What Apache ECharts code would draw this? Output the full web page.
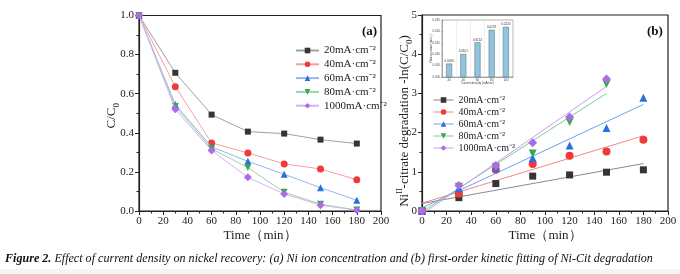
<!DOCTYPE html>
<html><head><meta charset="utf-8">
<script src="https://cdn.jsdelivr.net/npm/echarts@6/dist/echarts.min.js"></script>
<style>html,body{margin:0;padding:0;background:#fff}#c{width:680px;height:274px}</style>
</head><body><div id="c"></div>
<script>
// ---------- data ----------
const times = [0, 30, 60, 90, 120, 150, 180];
const seriesLabels = ['20mA·cm⁻²', '40mA·cm⁻²', '60mA·cm⁻²', '80mA·cm⁻²', '1000mA·cm⁻²'];
// (a) C/C0
const ratio20   = [1.0, 0.707, 0.493, 0.406, 0.396, 0.365, 0.345];
const ratio40   = [1.0, 0.636, 0.348, 0.297, 0.241, 0.215, 0.160];
const ratio60   = [1.0, 0.545, 0.328, 0.254, 0.188, 0.119, 0.055];
const ratio80   = [1.0, 0.535, 0.318, 0.222, 0.096, 0.035, 0.005];
const ratio1000 = [1.0, 0.520, 0.310, 0.172, 0.087, 0.030, 0.004];
// (b) -ln(C/C0)
const ln20   = [0, 0.34, 0.70, 0.89, 0.92, 0.99, 1.05];
const ln40   = [0, 0.44, 1.05, 1.20, 1.41, 1.52, 1.82];
const ln60   = [0, 0.58, 1.10, 1.35, 1.67, 2.12, 2.89];
const ln80   = [0, 0.62, 1.13, 1.47, 2.27, 3.24];
const ln1000 = [0, 0.65, 1.16, 1.74, 2.40, 3.37];
// fitted lines (start / end)
const fitX20 = [0, 180], fitY20 = [0.19, 1.21];
const fitX40 = [0, 180], fitY40 = [0.20, 1.92];
const fitX60 = [0, 180], fitY60 = [0.08, 2.72];
const fitX80 = [0, 150], fitY80 = [-0.02, 3.00];
const fitX1000 = [0, 150], fitY1000 = [-0.08, 3.18];
// inset: rate constants
const densities = ['20', '40', '60', '80', '100'];
const rates = [0.0059, 0.0101, 0.0152, 0.0207, 0.0220];
// axis ticks
const xTicks = {min: 0, max: 200, interval: 20};
const yTicksA = {min: 0, max: 1, interval: 0.2};
const yTicksB = {min: 0, max: 5, interval: 1};
const insetY = {min: 0, max: 0.025, interval: 0.005};

// ---------- styles ----------
const FONT = '"Liberation Serif", "Times New Roman", serif';
const markerColors = ['#353535', '#f03a3a', '#2a6fe0', '#35a852', '#ad6be6'];
const lineColorsA = ['#a0a0a0', '#f5a0a0', '#93b6ee', '#9bd3a9', '#d5b3f2'];
const lineColorsB = ['#8a8a8a', '#f28888', '#6aa2f0', '#78cc8e', '#c89cf0'];
const symbols = ['rect', 'circle', 'triangle', 'path://M0,0 L10,0 L5,9 Z', 'diamond'];
const symSizeA = [6, 7, 7, 7, 8];
const symSizeB = [7, 8, 8, 8, 9];

const ratios = [ratio20, ratio40, ratio60, ratio80, ratio1000];
const lns = [ln20, ln40, ln60, ln80, ln1000];
const fits = [[fitX20, fitY20], [fitX40, fitY40], [fitX60, fitY60], [fitX80, fitY80], [fitX1000, fitY1000]];
const keys = ['20', '40', '60', '80', '1000'];

function valAxis(grid, r, extra) {
  return Object.assign({
    type: 'value', gridIndex: grid, min: r.min, max: r.max, interval: r.interval,
    nameMoveOverlap: false,
    axisLine: {show: true, onZero: false, lineStyle: {color: '#222', width: 1.2}},
    axisTick: {show: true, inside: false, length: 4, lineStyle: {color: '#222', width: 1}},
    minorTick: {show: true, splitNumber: 2, length: 2.5, lineStyle: {color: '#222', width: 1}},
    splitLine: {show: false},
    axisLabel: {fontFamily: FONT, fontSize: 11, color: '#222', margin: 5}
  }, extra || {});
}

const series = [];
for (let k = 0; k < 5; k++) {
  series.push({
    name: 'a' + keys[k], type: 'line', xAxisIndex: 0, yAxisIndex: 0,
    data: ratios[k].map((v, i) => [times[i], v]),
    symbol: symbols[k], symbolSize: symSizeA[k],
    itemStyle: {color: markerColors[k]},
    lineStyle: {color: lineColorsA[k], width: 1},
    z: 3 + k
  });
}
for (let k = 0; k < 5; k++) {
  series.push({
    name: 'fit' + keys[k], type: 'line', xAxisIndex: 1, yAxisIndex: 1,
    data: fits[k][0].map((x, i) => [x, fits[k][1][i]]),
    symbol: 'none', lineStyle: {color: lineColorsB[k], width: 1}, silent: true, z: 2
  });
}
for (let k = 0; k < 5; k++) {
  series.push({
    name: 'b' + keys[k], type: 'line', xAxisIndex: 1, yAxisIndex: 1,
    data: lns[k].map((v, i) => [times[i], v]),
    symbol: symbols[k], symbolSize: symSizeB[k], showSymbol: true,
    itemStyle: {color: markerColors[k]},
    lineStyle: {color: lineColorsB[k], width: 1, opacity: 0},
    z: 5 + k
  });
}
series.push({
  type: 'bar', xAxisIndex: 2, yAxisIndex: 2, data: rates, barWidth: 6,
  itemStyle: {color: '#94c3dc', borderColor: '#4d6a7a', borderWidth: 0.5},
  label: {show: true, position: 'top', fontSize: 3, color: '#333', distance: 1,
          formatter: p => p.value.toFixed(4)},
  z: 10
});

const nameMap = {};
keys.forEach((k, i) => { nameMap['a' + k] = seriesLabels[i]; nameMap['b' + k] = seriesLabels[i]; });

const option = {
  animation: false,
  backgroundColor: '#fff',
  title: {
    left: 5, top: 253, padding: 0,
    text: '{b|Figure 2.} {i|Effect of current density on nickel recovery: (a) Ni ion concentration and (b) first-order kinetic fitting of Ni-Cit degradation}',
    textStyle: {fontFamily: FONT, fontStyle: 'italic', fontWeight: 'normal', fontSize: 12.1, color: '#111', rich: {
      b: {fontFamily: FONT, fontStyle: 'italic', fontWeight: 'bold', fontSize: 12.1, color: '#111'},
      i: {fontFamily: FONT, fontStyle: 'italic', fontWeight: 'normal', fontSize: 12.1, color: '#111'}
    }}
  },
  grid: [
    {left: 139, right: 299, top: 15.5, bottom: 63, show: true, borderColor: '#222', borderWidth: 1.2, backgroundColor: 'transparent'},
    {left: 422, right: 12, top: 15, bottom: 63, show: true, borderColor: '#222', borderWidth: 1.2, backgroundColor: 'transparent'},
    {left: 442, width: 71, top: 20, height: 57, show: true, borderColor: '#666', borderWidth: 0.5, backgroundColor: '#fff', z: 8}
  ],
  xAxis: [
    valAxis(0, xTicks, {name: 'Time（min）', nameLocation: 'middle', nameGap: 18,
      nameTextStyle: {fontFamily: FONT, fontSize: 13, color: '#222'}}),
    valAxis(1, xTicks, {name: 'Time（min）', nameLocation: 'middle', nameGap: 18,
      nameTextStyle: {fontFamily: FONT, fontSize: 13, color: '#222'}}),
    {type: 'category', gridIndex: 2, data: densities, z: 9, nameMoveOverlap: false,
     axisLine: {lineStyle: {color: '#666', width: 0.5}},
     axisTick: {length: 1, lineStyle: {color: '#666', width: 0.5}},
     splitLine: {show: true, lineStyle: {color: '#e2e2e2', width: 0.5}},
     axisLabel: {fontSize: 3, color: '#444', margin: 2},
     name: 'Current density (mA/cm²)', nameLocation: 'middle', nameGap: 5,
     nameTextStyle: {fontSize: 3, color: '#444'}}
  ],
  yAxis: [
    valAxis(0, yTicksA, {name: '{n|C/C}{sub|0}', nameLocation: 'middle', nameGap: 18,
      axisLabel: {fontFamily: FONT, fontSize: 11, color: '#222', margin: 5, formatter: v => v.toFixed(1)},
      nameTextStyle: {fontFamily: FONT, fontSize: 13, color: '#222', padding: [0, 5, 0, 0], rich: {
        n: {fontFamily: FONT, fontSize: 13, color: '#222', lineHeight: 18},
        sub: {fontFamily: FONT, fontSize: 9, color: '#222', lineHeight: 10, verticalAlign: 'bottom'}}}}),
    valAxis(1, yTicksB, {name: '{n|Ni}{sup|II}{n|-citrate degradation -ln(C/C}{sub|0}{n|)}', nameLocation: 'middle', nameGap: 8,
      nameTextStyle: {fontFamily: FONT, fontSize: 13, color: '#222', padding: [0, 16, 0, 0], rich: {
        n: {fontFamily: FONT, fontSize: 13, color: '#222', lineHeight: 18},
        sup: {fontFamily: FONT, fontSize: 8, color: '#222', lineHeight: 10, verticalAlign: 'top'},
        sub: {fontFamily: FONT, fontSize: 9, color: '#222', lineHeight: 10, verticalAlign: 'bottom'}}}}),
    {type: 'value', gridIndex: 2, min: insetY.min, max: insetY.max, interval: insetY.interval, z: 9, nameMoveOverlap: false,
     axisLine: {show: true, lineStyle: {color: '#666', width: 0.5}},
     axisTick: {show: true, length: 1, lineStyle: {color: '#666', width: 0.5}},
     splitLine: {show: false},
     axisLabel: {fontSize: 3, color: '#444', margin: 2, formatter: v => v.toFixed(3)},
     name: 'Rate constant (min⁻¹)', nameLocation: 'middle', nameGap: 9,
     nameTextStyle: {fontSize: 3, color: '#444'}}
  ],
  legend: [
    {data: keys.map(k => 'a' + k), orient: 'vertical', left: 295, top: 45, padding: 0,
     itemWidth: 23, itemHeight: 7, itemGap: 2.8, formatter: n => nameMap[n],
     textStyle: {fontFamily: FONT, fontSize: 11, lineHeight: 11, color: '#222'}},
    {data: keys.map(k => 'b' + k), orient: 'vertical', left: 433, top: 95, padding: 0,
     itemWidth: 20, itemHeight: 7, itemGap: 2, formatter: n => nameMap[n],
     lineStyle: {opacity: 1, width: 1},
     textStyle: {fontFamily: FONT, fontSize: 10, lineHeight: 10, color: '#222'}}
  ],
  graphic: [
    {type: 'text', left: 362, top: 25, z: 20, style: {text: '(a)', font: 'bold 13px ' + FONT, fill: '#111'}},
    {type: 'text', left: 647, top: 25, z: 20, style: {text: '(b)', font: 'bold 13px ' + FONT, fill: '#111'}},
    {type: 'rect', left: 0, top: 269, z: -1, shape: {width: 680, height: 5}, style: {fill: '#f3f6f6'}}
  ],
  series: series
};
const chart = echarts.init(document.getElementById('c'), null, {renderer: 'canvas'});
chart.setOption(option);
</script></body></html>
